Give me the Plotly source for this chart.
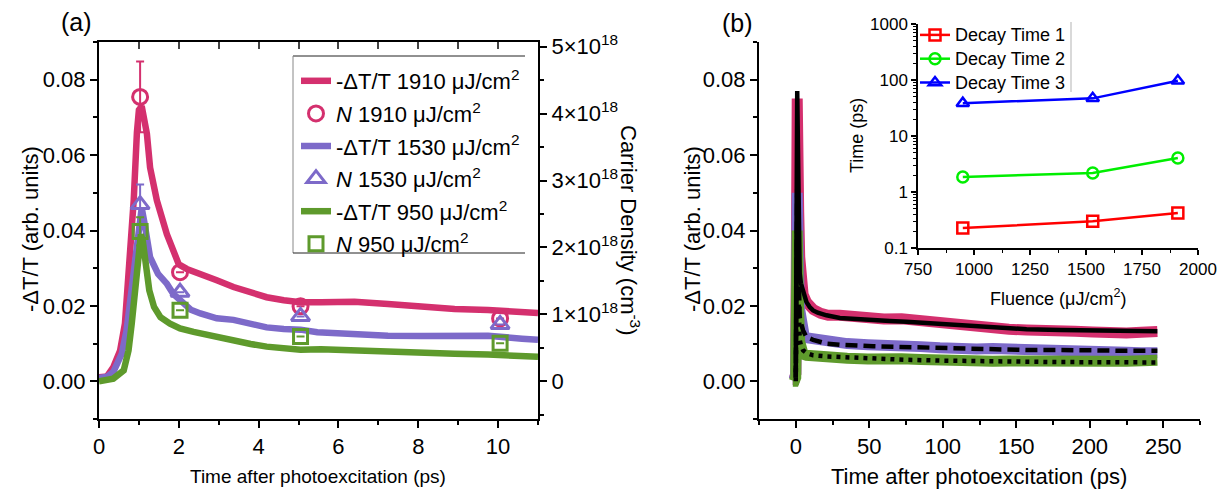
import plotly.graph_objects as go

W, H = 1222, 489
FONT = "Liberation Sans, Arial, sans-serif"

PINK = "#D4306E"
PURPLE = "#7D6AC9"
GREEN = "#5E9A2C"

# ---------------- Panel (a) data ----------------
t_1910_a = [0, 0.2, 0.36, 0.53, 0.65, 0.74, 0.82, 0.87, 0.95, 1.0, 1.07, 1.13, 1.2, 1.28, 1.45, 1.7,
            1.85, 2.0, 2.2, 2.54, 2.95, 3.37, 3.8, 4.2, 4.63, 5.05, 5.56, 6.4, 7.24, 8.08, 8.91, 9.75, 10.6, 11.0]
dT_1910_a = [0.0011, 0.0013, 0.0038, 0.0082, 0.0153, 0.0286, 0.0373, 0.048, 0.066, 0.072, 0.073, 0.070,
             0.0657, 0.0567, 0.048, 0.039, 0.0347, 0.031, 0.0298, 0.0286, 0.0268, 0.025, 0.0237, 0.0223,
             0.0215, 0.021, 0.021, 0.0211, 0.0205, 0.0198, 0.0192, 0.0189, 0.0185, 0.0181]

t_1530_a = [0, 0.2, 0.36, 0.57, 0.69, 0.78, 0.86, 0.94, 1.0, 1.07, 1.14, 1.2, 1.28, 1.48, 1.7, 1.86, 2.3,
            2.54, 2.95, 3.37, 3.8, 4.2, 4.63, 5.05, 5.47, 5.8, 6.4, 7.24, 8.08, 8.91, 9.75, 10.6, 11.0]
dT_1530_a = [0.0009, 0.0012, 0.0025, 0.0073, 0.0135, 0.0215, 0.0303, 0.0373, 0.043, 0.046, 0.042, 0.037,
             0.0329, 0.0285, 0.0259, 0.0232, 0.019, 0.018, 0.0167, 0.0163, 0.0154, 0.0143, 0.0139, 0.0137,
             0.013, 0.0128, 0.0126, 0.0121, 0.012, 0.0121, 0.0121, 0.0113, 0.011]

t_950_a = [0, 0.2, 0.36, 0.62, 0.74, 0.82, 0.9, 0.96, 1.01, 1.05, 1.1, 1.2, 1.26, 1.38, 1.54, 1.78, 2.03,
           2.37, 2.95, 3.37, 3.8, 4.2, 4.63, 5.05, 5.56, 6.4, 7.24, 8.08, 8.91, 9.75, 10.6, 11.0]
dT_950_a = [0.0, 0.0002, 0.0007, 0.0029, 0.0082, 0.0153, 0.024, 0.033, 0.037, 0.039, 0.037, 0.0285, 0.0241,
            0.0197, 0.017, 0.0153, 0.014, 0.0131, 0.0117, 0.0108, 0.0099, 0.0092, 0.0089, 0.0084, 0.0085,
            0.0081, 0.0081, 0.0076, 0.0073, 0.0071, 0.0067, 0.0065]

t_N = [1.03, 2.03, 5.05, 10.05]
N_1910 = [4.25e18, 1.63e18, 1.12e18, 0.94e18]
N_1910_err = [0.53e18, 0, 0, 0]
N_1530 = [2.64e18, 1.33e18, 0.97e18, 0.85e18]
N_1530_err = [0.30e18, 0, 0, 0]
N_950 = [2.24e18, 1.06e18, 0.67e18, 0.57e18]
N_950_err = [0.21e18, 0, 0, 0]

dens_tickvals = [0, 1e18, 2e18, 3e18, 4e18, 5e18]
dens_ticktext = ["0", "1×10<sup>18</sup>", "2×10<sup>18</sup>", "3×10<sup>18</sup>",
                 "4×10<sup>18</sup>", "5×10<sup>18</sup>"]
dens_minor = [-0.5e18, 0.5e18, 1.5e18, 2.5e18, 3.5e18, 4.5e18]

# ---------------- Panel (b) data ----------------
t_1910_b = [-2, -1, 0, 0.5, 1.0, 1.5, 2.0, 2.7, 3.5, 5.0, 7.3, 9.5, 12, 17, 22, 30, 40, 50, 60, 72, 85, 98,
            112, 125, 134, 145, 157, 168, 180, 190, 202, 213, 225, 235, 246]
dT_1910_b = [0.0005, 0.0005, 0.002, 0.06, 0.075, 0.06, 0.045, 0.033, 0.027, 0.023, 0.021, 0.0197, 0.019,
             0.018, 0.0175, 0.0175, 0.017, 0.0166, 0.0165, 0.0166, 0.016, 0.0158, 0.0148, 0.0142, 0.014,
             0.0138, 0.0136, 0.0137, 0.0132, 0.0133, 0.0131, 0.0128, 0.0128, 0.013, 0.0132]
t_fit1 = [0, 0.3, 0.7, 1.0, 1.5, 2.0, 2.7, 3.5, 5.0, 7.3, 9.5, 11.8, 15, 20.9, 30, 40, 52.6, 64, 75.3, 87,
          98, 118, 134, 157, 180, 202, 225, 246]
fit1 = [0.001, 0.04, 0.072, 0.077, 0.062, 0.045, 0.0286, 0.026, 0.024, 0.021, 0.0197, 0.0188, 0.0182,
        0.0175, 0.0168, 0.0165, 0.0162, 0.016, 0.0158, 0.0155, 0.0152, 0.0147, 0.0142, 0.0138, 0.0136,
        0.0135, 0.0134, 0.0133]

t_1530_b = [-2, -1, 0, 0.5, 1.0, 1.5, 2.0, 2.7, 3.5, 5.0, 5.9, 8, 12, 17, 22, 27, 35, 49, 60, 72, 85, 98,
            112, 123, 134, 145, 157, 168, 180, 190, 202, 213, 225, 235, 246]
dT_1530_b = [0.0005, 0.0005, 0.002, 0.04, 0.05, 0.04, 0.028, 0.019, 0.015, 0.013, 0.0117, 0.0115, 0.0112,
             0.0109, 0.0106, 0.0105, 0.010, 0.0097, 0.0097, 0.0093, 0.0092, 0.0089, 0.0085, 0.0086, 0.0087,
             0.0085, 0.0085, 0.0083, 0.0081, 0.008, 0.0077, 0.0078, 0.0077, 0.0076, 0.0076]
t_fit2 = [0, 0.3, 0.7, 1.0, 1.5, 2.0, 2.7, 3.5, 5.0, 7.3, 11.8, 20.9, 30, 52.6, 75.3, 98, 118, 134, 157,
          180, 202, 225, 246]
fit2 = [0.001, 0.03, 0.048, 0.051, 0.036, 0.025, 0.017, 0.0155, 0.0135, 0.0117, 0.011, 0.010, 0.0097,
        0.0093, 0.0091, 0.0087, 0.0085, 0.0083, 0.0083, 0.0083, 0.0081, 0.0081, 0.0081]

t_950_b = [-2, -1, 0, 0.5, 1.0, 1.5, 2.0, 2.7, 3.5, 5.0, 7.3, 12, 17, 27, 35, 49, 60, 72, 85, 98, 112, 123,
           134, 145, 157, 168, 180, 190, 202, 213, 225, 235, 246]
dT_950_b = [0.0, 0.0, 0.001, 0.03, 0.04, 0.03, 0.018, 0.0105, 0.0085, 0.0072, 0.0069, 0.0067, 0.0066,
            0.0063, 0.0061, 0.0059, 0.0061, 0.006, 0.0058, 0.0055, 0.0055, 0.0054, 0.0053, 0.0054, 0.0055,
            0.0053, 0.0053, 0.0052, 0.0055, 0.0053, 0.0053, 0.0054, 0.0056]
t_fit3 = [0, 0.3, 0.7, 1.0, 1.5, 2.0, 2.7, 3.5, 5.0, 7.3, 11.8, 20.9, 30, 52.6, 75.3, 98, 118, 134, 157,
          180, 202, 225, 246]
fit3 = [0.0, 0.02, 0.036, 0.04, 0.028, 0.017, 0.011, 0.0095, 0.0082, 0.0075, 0.0069, 0.0066, 0.0064,
        0.006, 0.0057, 0.0055, 0.0053, 0.0052, 0.0052, 0.0051, 0.0051, 0.005, 0.005]

# ---------------- Inset data ----------------
fluence = [950, 1530, 1910]
tau1 = [0.227, 0.30, 0.42]
tau2 = [1.85, 2.19, 4.05]
tau3 = [38.6, 47, 97]


def px(x):
    return x / W


def py(y):
    return 1 - y / H


fig = go.Figure()

# Panel (a)
leg_a = [
    (t_1910_a, dT_1910_a, PINK, "-ΔT/T 1910 μJ/cm<sup>2</sup>"),
    (t_1530_a, dT_1530_a, PURPLE, "-ΔT/T 1530 μJ/cm<sup>2</sup>"),
    (t_950_a, dT_950_a, GREEN, "-ΔT/T 950 μJ/cm<sup>2</sup>"),
]
Ns = [
    (N_1910, N_1910_err, PINK, "circle-open", 15, "<i>N</i> 1910 μJ/cm<sup>2</sup>"),
    (N_1530, N_1530_err, PURPLE, "triangle-up-open", 16, "<i>N</i> 1530 μJ/cm<sup>2</sup>"),
    (N_950, N_950_err, GREEN, "square-open", 14, "<i>N</i> 950 μJ/cm<sup>2</sup>"),
]
g = 0
for (tt, vv, c, nm), (nn, ee, c2, sym, sz, nm2) in zip(leg_a, Ns):
    g += 1
    fig.add_trace(go.Scatter(x=tt, y=vv, mode="lines", line=dict(color=c, width=6.5), name=nm,
                             xaxis="x", yaxis="y", legend="legend", legendgroup=f"g{g}"))
    g += 1
    fig.add_trace(go.Scatter(x=t_N, y=nn, mode="markers", name=nm2,
                             marker=dict(symbol=sym, size=sz, color=c2, line=dict(width=3, color=c2)),
                             error_y=dict(type="data", array=ee, color=c2, thickness=2, width=4),
                             xaxis="x", yaxis="y2", legend="legend", legendgroup=f"g{g}"))

fig.add_trace(go.Scatter(x=[], y=[], xaxis="x3", yaxis="y", showlegend=False, hoverinfo="skip"))

# Panel (b)
for tt, vv, c in [(t_1910_b, dT_1910_b, PINK), (t_1530_b, dT_1530_b, PURPLE), (t_950_b, dT_950_b, GREEN)]:
    fig.add_trace(go.Scatter(x=tt, y=vv, mode="lines", line=dict(color=c, width=11),
                             xaxis="x2", yaxis="y3", showlegend=False))
for tt, vv, d in [(t_fit1, fit1, "solid"), (t_fit2, fit2, "12px,6px"), (t_fit3, fit3, "4px,5px")]:
    fig.add_trace(go.Scatter(x=tt, y=vv, mode="lines", line=dict(color="black", width=4.5, dash=d),
                             xaxis="x2", yaxis="y3", showlegend=False))

# Inset
for vals, c, sym, nm in [(tau1, "#FF0000", "square-open", "Decay Time 1"),
                         (tau2, "#00EE00", "circle-open", "Decay Time 2"),
                         (tau3, "#0000FF", "triangle-up-open", "Decay Time 3")]:
    fig.add_trace(go.Scatter(x=fluence, y=vals, mode="lines+markers",
                             name=f"<span style='font-size:18px'>{nm}</span>",
                             line=dict(color=c, width=2.5),
                             marker=dict(symbol=sym, size=11, color=c, line=dict(width=2.5, color=c)),
                             xaxis="x4", yaxis="y4", legend="legend2"))

axis_common = dict(showline=True, linewidth=2, linecolor="black", showgrid=False, zeroline=False,
                   ticks="outside", ticklen=7, tickwidth=2, tickcolor="black",
                   tickfont=dict(size=22, color="black", family=FONT))
inset_common = dict(showline=True, linewidth=1.5, linecolor="black", showgrid=False, zeroline=False,
                    ticks="outside", ticklen=5, tickwidth=1.5, tickcolor="black",
                    tickfont=dict(size=17, color="black", family=FONT))

ydom = [py(419), py(42)]

fig.update_layout(
    width=W, height=H, autosize=False,
    margin=dict(l=0, r=0, t=0, b=0, autoexpand=False),
    paper_bgcolor="white", plot_bgcolor="rgba(0,0,0,0)",
    font=dict(family=FONT, color="black"),
    xaxis=dict(domain=[px(99), px(538)], anchor="y", range=[0, 11], tickmode="linear", tick0=0, dtick=2,
               minor=dict(dtick=1, tick0=0, ticks="outside", ticklen=4, tickwidth=1.5), **axis_common),
    xaxis3=dict(overlaying="x", anchor="y", side="top", range=[0, 11], tickmode="linear", tick0=0, dtick=1,
                showline=True, linewidth=2, linecolor="black", ticks="inside", ticklen=7, tickwidth=1.5,
                showticklabels=False, showgrid=False, zeroline=False),
    yaxis=dict(domain=ydom, anchor="x", range=[-0.01, 0.09], tickmode="linear", tick0=0, dtick=0.02,
               tickformat=".2f",
               minor=dict(dtick=0.01, tick0=0, ticks="outside", ticklen=4, tickwidth=1.5), **axis_common),
    yaxis2=dict(overlaying="y", anchor="x", side="right", range=[-0.5634e18, 5.07e18], tickmode="array",
                tickvals=dens_tickvals, ticktext=dens_ticktext,
                minor=dict(tickmode="array", tickvals=dens_minor, ticks="outside", ticklen=4, tickwidth=1.5),
                **axis_common),
    xaxis2=dict(domain=[px(759), px(1200)], anchor="y3", range=[-25, 275], tickmode="linear", tick0=0,
                dtick=50, minor=dict(dtick=25, tick0=0, ticks="outside", ticklen=4, tickwidth=1.5),
                **axis_common),
    yaxis3=dict(domain=ydom, anchor="x2", range=[-0.01, 0.09], tickmode="linear", tick0=0, dtick=0.02,
                tickformat=".2f",
                minor=dict(dtick=0.01, tick0=0, ticks="outside", ticklen=4, tickwidth=1.5), **axis_common),
    xaxis4=dict(domain=[px(918), px(1198)], anchor="y4", range=[750, 2000], tickmode="linear", tick0=750,
                dtick=250, minor=dict(dtick=125, tick0=750, ticks="outside", ticklen=3, tickwidth=1),
                **inset_common),
    yaxis4=dict(domain=[py(248), py(24)], anchor="x4", type="log", range=[-1, 3], tickmode="array",
                tickvals=[0.1, 1, 10, 100, 1000], ticktext=["0.1", "1", "10", "100", "1000"],
                minor=dict(tickmode="array", ticks="outside", ticklen=3, tickwidth=1,
                           tickvals=[0.2, 0.3, 0.4, 0.5, 0.6, 0.7, 0.8, 0.9, 2, 3, 4, 5, 6, 7, 8, 9,
                                     20, 30, 40, 50, 60, 70, 80, 90, 200, 300, 400, 500, 600, 700, 800, 900]),
                **inset_common),
    legend=dict(x=px(296), y=py(60), xanchor="left", yanchor="top", bgcolor="rgba(0,0,0,0)", borderwidth=0,
                font=dict(size=22, family=FONT, color="black"), tracegroupgap=1, itemwidth=30),
    legend2=dict(x=px(915), y=py(18), xanchor="left", yanchor="top", bgcolor="rgba(0,0,0,0)", borderwidth=0,
                 font=dict(size=16, family=FONT, color="black"), tracegroupgap=0, itemwidth=30),
)

# legend frame (top, left, bottom) for panel (a), and inset legend edge
shapes = [
    dict(type="line", xref="paper", yref="paper", x0=px(293), x1=px(525), y0=py(56), y1=py(56),
         line=dict(color="#222", width=1)),
    dict(type="line", xref="paper", yref="paper", x0=px(293), x1=px(293), y0=py(56), y1=py(253),
         line=dict(color="#888", width=1)),
    dict(type="line", xref="paper", yref="paper", x0=px(293), x1=px(525), y0=py(253), y1=py(253),
         line=dict(color="#222", width=1)),
    dict(type="line", xref="paper", yref="paper", x0=px(1071), x1=px(1071), y0=py(22), y1=py(92),
         line=dict(color="#ccc", width=1.5)),
]
fig.update_layout(shapes=shapes)

ann = [
    dict(text="(a)", x=px(76), y=py(22), font=dict(size=25)),
    dict(text="(b)", x=px(737), y=py(23), font=dict(size=25)),
    dict(text="-ΔT/T (arb. units)", x=px(30), y=py(229), textangle=-90, font=dict(size=22)),
    dict(text="Carrier Density (cm<sup>-3</sup>)", x=px(630), y=py(230), textangle=90, font=dict(size=22)),
    dict(text="Time after photoexcitation (ps)", x=px(318), y=py(476), font=dict(size=19)),
    dict(text="-ΔT/T (arb. units)", x=px(692), y=py(229), textangle=-90, font=dict(size=22)),
    dict(text="Time after photoexcitation (ps)", x=px(979), y=py(476), font=dict(size=22)),
    dict(text="Time (ps)", x=px(857), y=py(136), textangle=-90, font=dict(size=18)),
    dict(text="Fluence (μJ/cm<sup>2</sup>)", x=px(1058), y=py(297), font=dict(size=18)),
]
for a in ann:
    a.update(xref="paper", yref="paper", showarrow=False, xanchor="center", yanchor="middle")
    a["font"].update(family=FONT, color="black")
fig.update_layout(annotations=ann)

fig.write_html("out.html", config={"displayModeBar": False},
               post_script="document.body.style.margin='0px';document.body.style.overflow='hidden';")
